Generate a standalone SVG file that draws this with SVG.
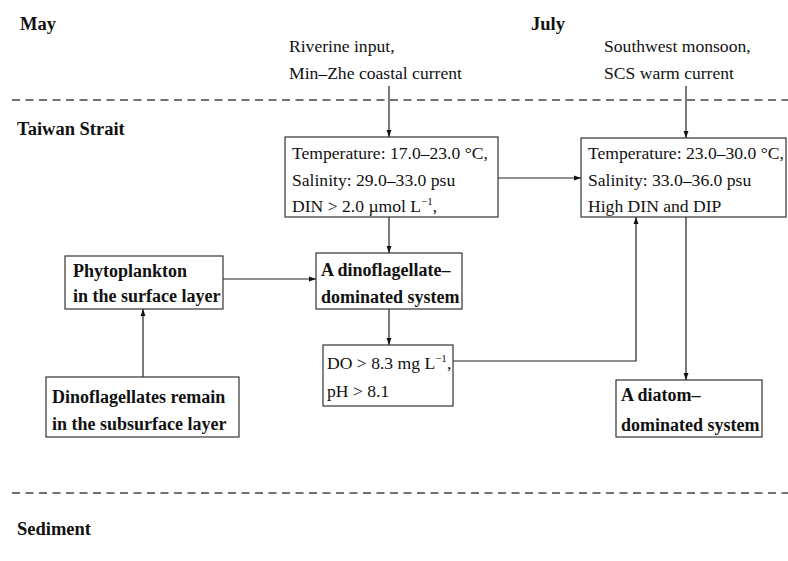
<svg xmlns="http://www.w3.org/2000/svg" width="788" height="561" viewBox="0 0 788 561">
<style>
text{font-family:"Liberation Serif","DejaVu Serif",serif;fill:#111}
.r{font-size:17.6px}
.b{font-size:18px;font-weight:bold}
.h{font-size:18.5px;font-weight:bold}
.box{fill:#fff;stroke:#333;stroke-width:1.2}
.ln{fill:none;stroke:#222;stroke-width:1.2}
.dash{stroke:#444;stroke-width:1.3;stroke-dasharray:8 5.5}
</style>
<defs>
<marker id="ah" viewBox="0 0 10 10" refX="10" refY="5" markerWidth="7" markerHeight="7" markerUnits="userSpaceOnUse" orient="auto">
<path d="M0,1.5 L10,5 L0,8.5 z" fill="#111"/>
</marker>
</defs>
<g id="labels">
<text class="h" x="20" y="30">May</text>
<text class="h" x="531" y="30">July</text>
<text class="r" x="289" y="52">Riverine input,</text>
<text class="r" x="289" y="79">Min–Zhe coastal current</text>
<text class="r" x="604" y="52">Southwest monsoon,</text>
<text class="r" x="604" y="79">SCS warm current</text>
<text class="h" x="17" y="135">Taiwan Strait</text>
<text class="h" x="17" y="535">Sediment</text>
</g>
<g id="layers">
<line class="dash" x1="12" y1="100" x2="788" y2="100"/>
<line class="dash" x1="12" y1="493" x2="788" y2="493"/>
</g>
<g id="connectors">
<line class="ln" x1="389" y1="86" x2="389" y2="137" marker-end="url(#ah)"/>
<line class="ln" x1="686" y1="86" x2="686" y2="138" marker-end="url(#ah)"/>
<line class="ln" x1="498" y1="178" x2="581" y2="178" marker-end="url(#ah)"/>
<line class="ln" x1="389" y1="217" x2="389" y2="253" marker-end="url(#ah)"/>
<line class="ln" x1="223" y1="279" x2="316" y2="279" marker-end="url(#ah)"/>
<line class="ln" x1="389" y1="309" x2="389" y2="345" marker-end="url(#ah)"/>
<path class="ln" d="M453,361 H636 V217" marker-end="url(#ah)"/>
<line class="ln" x1="686" y1="217" x2="686" y2="380" marker-end="url(#ah)"/>
<line class="ln" x1="143" y1="377" x2="143" y2="309" marker-end="url(#ah)"/>
</g>
<g id="may-conditions">
<rect class="box" x="285" y="137" width="213" height="80"/>
<text class="r" x="292" y="159">Temperature: 17.0–23.0 °C,</text>
<text class="r" x="292" y="186">Salinity: 29.0–33.0 psu</text>
<text class="r" x="292" y="212">DIN &gt; 2.0 µmol L<tspan dy="-7" font-size="11">−1</tspan><tspan dy="7">,</tspan></text>
</g>
<g id="july-conditions">
<rect class="box" x="581" y="138" width="205" height="79"/>
<text class="r" x="588" y="159">Temperature: 23.0–30.0 °C,</text>
<text class="r" x="588" y="186">Salinity: 33.0–36.0 psu</text>
<text class="r" x="588" y="212">High DIN and DIP</text>
</g>
<g id="phytoplankton">
<rect class="box" x="65" y="256" width="158" height="53"/>
<text class="b" x="73" y="277">Phytoplankton</text>
<text class="b" x="73" y="302">in the surface layer</text>
</g>
<g id="dinoflagellate-system">
<rect class="box" x="316" y="253" width="146" height="56"/>
<text class="b" x="321" y="276">A dinoflagellate–</text>
<text class="b" x="321" y="303">dominated system</text>
</g>
<g id="do-ph">
<rect class="box" x="323" y="345" width="130" height="61"/>
<text class="r" x="327" y="369">DO &gt; 8.3 mg L<tspan dy="-7" font-size="11">−1</tspan><tspan dy="7">,</tspan></text>
<text class="r" x="327" y="397">pH &gt; 8.1</text>
</g>
<g id="diatom-system">
<rect class="box" x="616" y="380" width="146" height="57"/>
<text class="b" x="621" y="401">A diatom–</text>
<text class="b" x="621" y="431">dominated system</text>
</g>
<g id="subsurface">
<rect class="box" x="46" y="377" width="193" height="60"/>
<text class="b" x="52" y="403">Dinoflagellates remain</text>
<text class="b" x="52" y="430">in the subsurface layer</text>
</g>
</svg>
